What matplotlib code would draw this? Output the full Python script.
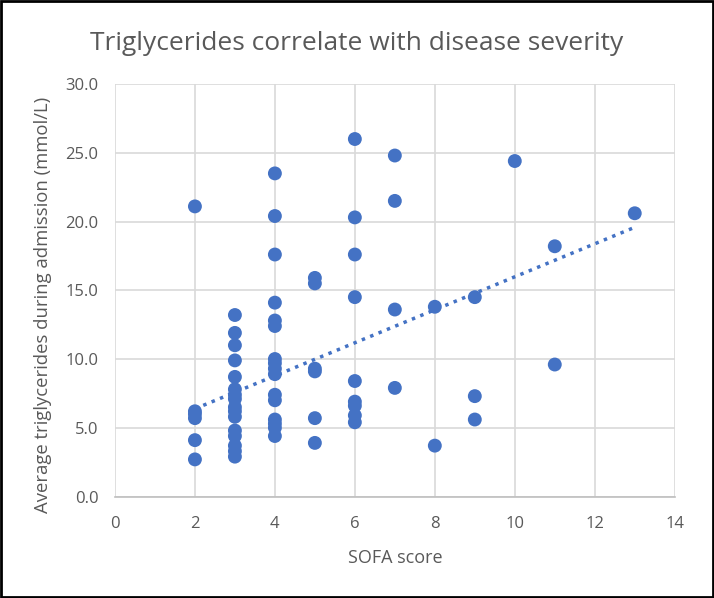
import matplotlib

matplotlib.use("Agg")
import matplotlib.pyplot as plt
import numpy as np
from matplotlib.patches import Rectangle

# SOFA score vs average triglycerides (mmol/L)
sofa = (
    [2] * 6
    + [3] * 16
    + [4] * 16
    + [5] * 6
    + [6] * 9
    + [7] * 4
    + [8] * 2
    + [9] * 3
    + [10]
    + [11] * 2
    + [13]
)
triglycerides = [
    21.1, 6.2, 6.0, 5.7, 4.1, 2.7,
    13.2, 11.9, 11.0, 9.9, 8.7, 7.8, 7.4, 7.1, 6.5, 6.2, 5.8, 4.8, 4.4, 3.7, 3.3, 2.9,
    23.5, 20.4, 17.6, 14.1, 12.8, 12.4, 10.0, 9.7, 9.3, 8.9, 7.4, 7.0, 5.6, 5.3, 5.0, 4.4,
    15.9, 15.5, 9.3, 9.1, 5.7, 3.9,
    26.0, 20.3, 17.6, 14.5, 8.4, 6.9, 6.6, 5.9, 5.4,
    24.8, 21.5, 13.6, 7.9,
    13.8, 3.7,
    14.5, 7.3, 5.6,
    24.4,
    18.2, 9.6,
    20.6,
]
# linear trendline as shown on the chart (some points overlap, so a refit drifts)
trend_slope = 1.20
trend_intercept = 3.98

x_ticks = [0, 2, 4, 6, 8, 10, 12, 14]
y_ticks = [0, 5, 10, 15, 20, 25, 30]

BLUE = "#4472C4"
TEXT = "#595959"
GRID = "#D9D9D9"

plt.rcParams["font.family"] = ["Open Sans", "DejaVu Sans"]

fig = plt.figure(figsize=(7.14, 5.98), dpi=100)
ax = fig.add_axes([0.161, 0.1697, 0.784, 0.6898])

x = np.array(sofa, dtype=float)
y = np.array(triglycerides, dtype=float)
ax.scatter(x, y, s=100, color=BLUE, edgecolors="none", zorder=3)

xs = np.array([x.min(), x.max()])
ax.plot(xs, trend_slope * xs + trend_intercept, color=BLUE, lw=2.5,
        ls=(0, (1, 1.6)), zorder=2)

ax.set_xlim(0, 14)
ax.set_ylim(0, 30)
ax.set_xticks(x_ticks)
ax.set_yticks(y_ticks)
ax.set_yticklabels([f"{v:.1f}" for v in y_ticks])
ax.tick_params(length=0, labelsize=12, colors=TEXT)
ax.tick_params(axis="x", pad=14)
ax.tick_params(axis="y", pad=12)
ax.grid(True, color=GRID, lw=1.2, zorder=0)
ax.set_axisbelow(True)
for side in ("top", "right", "left"):
    ax.spines[side].set_visible(False)
ax.spines["bottom"].set_color("#BFBFBF")
ax.spines["bottom"].set_linewidth(1.2)

ax.set_xlabel("SOFA score", fontsize=13, color=TEXT)
ax.xaxis.set_label_coords(0.5, -0.128)
ax.set_ylabel("Average triglycerides during admission (mmol/L)", fontsize=13.3,
              color=TEXT)
ax.yaxis.set_label_coords(-0.112, 0.464)
fig.text(0.5, 0.928, "Triglycerides correlate with disease severity",
         ha="center", va="center", fontsize=19, color=TEXT)

fig.patches.append(Rectangle((0.002, 0.002), 0.996, 0.996, transform=fig.transFigure,
                             fill=False, edgecolor="black", lw=2))

fig.savefig("out.png", dpi=100)
